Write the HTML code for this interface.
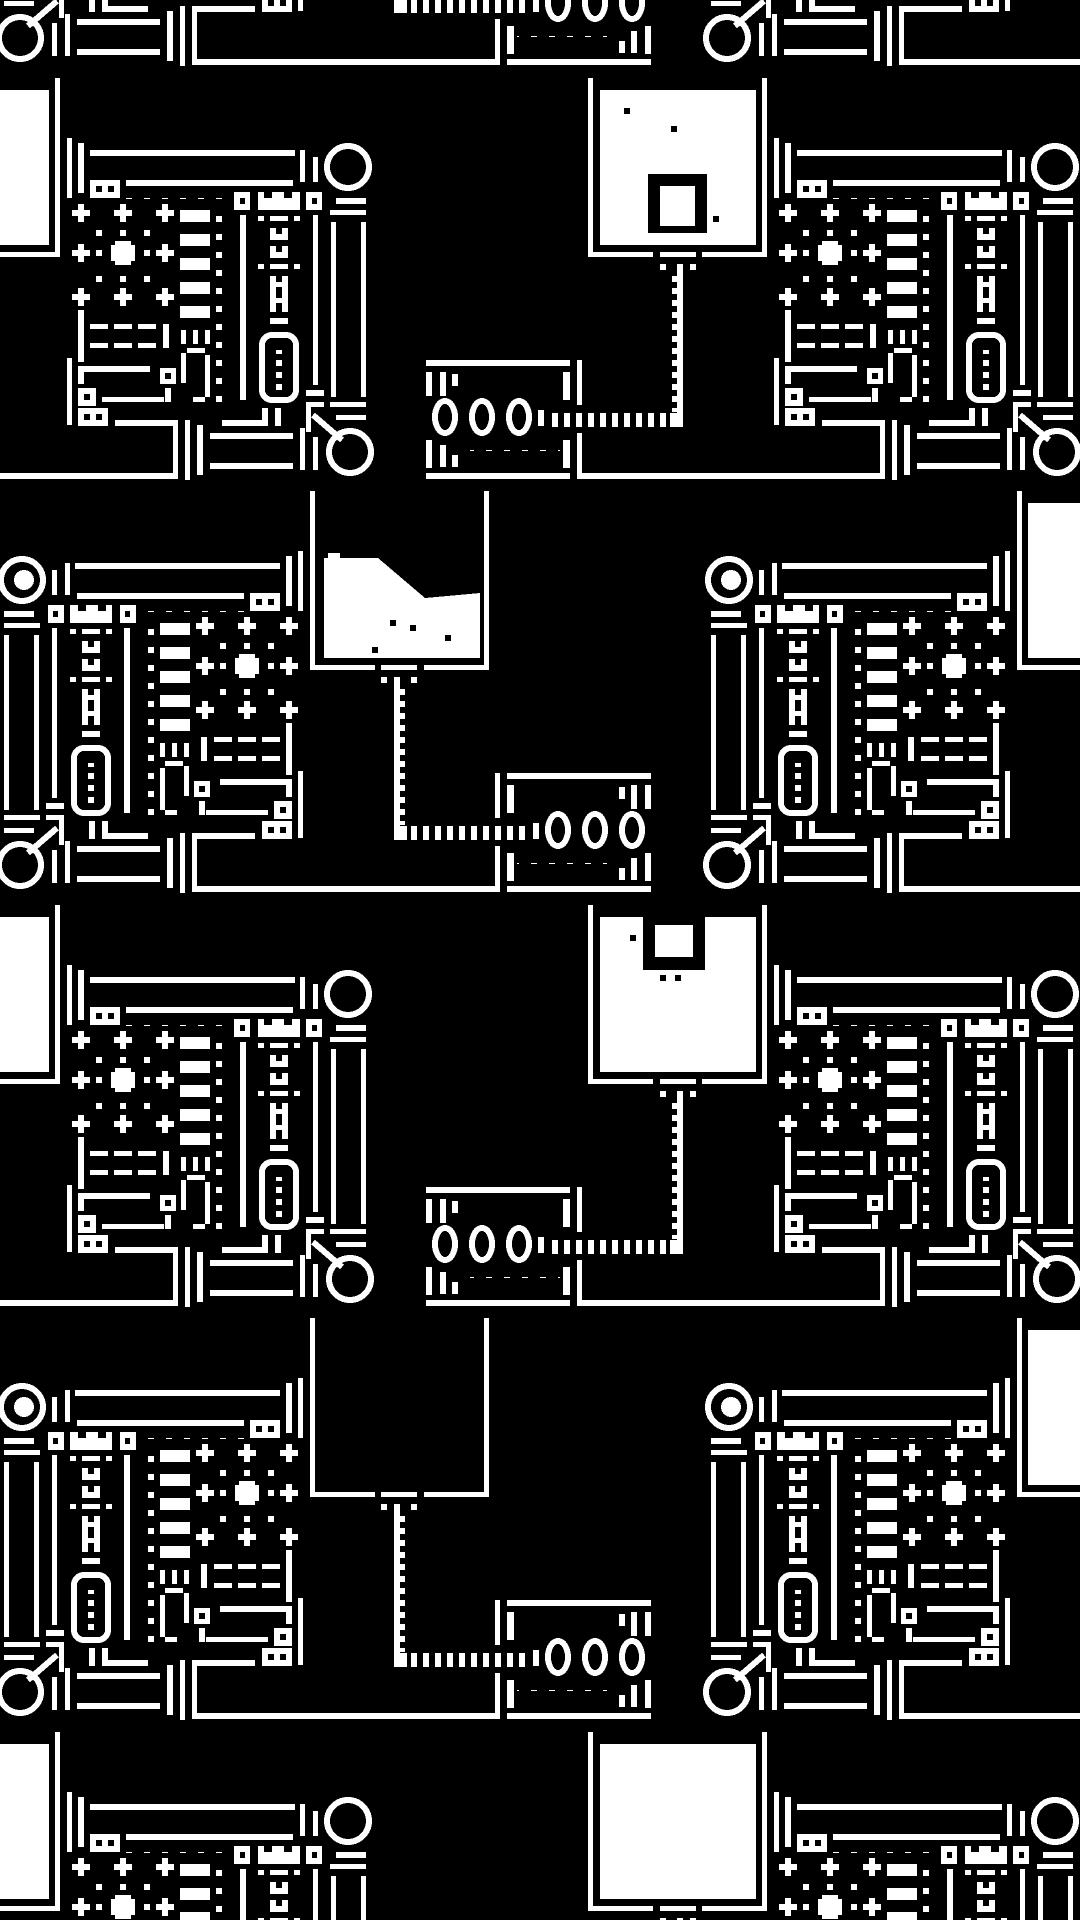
<!DOCTYPE html>
<html><head><meta charset="utf-8"><style>html,body{margin:0;padding:0;background:#000;width:1080px;height:1920px;overflow:hidden}svg{display:block}</style></head>
<body>
<svg width="1080" height="1920" viewBox="0 0 1080 1920" xmlns="http://www.w3.org/2000/svg" shape-rendering="crispEdges">
<defs>
<pattern id="d18" patternUnits="userSpaceOnUse" width="18" height="18"><rect width="6" height="6" fill="#fff"/></pattern>
<pattern id="dv12" patternUnits="userSpaceOnUse" width="12" height="12"><rect width="6" height="6" fill="#fff"/></pattern>
<pattern id="dash" patternUnits="userSpaceOnUse" width="12" height="12"><rect width="6" height="40" fill="#fff"/></pattern>
<g id="P"><rect x="-9" y="-3" width="18" height="6"/><rect x="-3" y="-9" width="6" height="18"/></g>
<g id="A" fill="#fff">
<rect x="588" y="78" width="5" height="179"/><rect x="762" y="78" width="5" height="179"/>
<rect x="588" y="252" width="65" height="5"/><rect x="660" y="252" width="36" height="5"/><rect x="702" y="252" width="65" height="5"/>
<rect x="660" y="264" width="6" height="6"/><rect x="690" y="264" width="6" height="6"/>
<rect x="677" y="264" width="6" height="150"/><rect x="671" y="272" width="6" height="140" fill="url(#dv12)"/>
<rect x="550" y="413" width="120" height="14" fill="url(#dash)"/><rect x="670" y="413" width="13" height="14"/>
<rect x="426" y="360" width="144" height="6"/><rect x="426" y="473" width="144" height="6"/>
<rect x="426" y="372" width="6" height="24"/><rect x="440" y="372" width="6" height="24"/><rect x="452" y="374" width="6" height="12"/>
<rect x="470" y="372" width="90" height="6" fill="url(#d18)"/><rect x="470" y="390" width="90" height="6" fill="url(#d18)"/>
<rect x="470" y="445" width="90" height="6" fill="url(#d18)"/><rect x="470" y="462" width="90" height="6" fill="url(#d18)"/>
<rect x="426" y="440" width="6" height="28"/><rect x="440" y="445" width="6" height="22"/><rect x="452" y="455" width="6" height="12"/>
<rect x="563" y="372" width="7" height="28"/><rect x="563" y="440" width="7" height="28"/>
<ellipse cx="445" cy="417" rx="10" ry="16" fill="none" stroke="#fff" stroke-width="6"/>
<ellipse cx="482" cy="417" rx="10" ry="16" fill="none" stroke="#fff" stroke-width="6"/>
<ellipse cx="519" cy="417" rx="10" ry="16" fill="none" stroke="#fff" stroke-width="6"/>
<rect x="538" y="410" width="6" height="16"/>
<rect x="577" y="360" width="5" height="45"/><rect x="577" y="433" width="5" height="46"/>
<rect x="577" y="473" width="203" height="6"/>
<circle cx="348" cy="167" r="21" fill="none" stroke="#fff" stroke-width="6"/>
<rect x="300" y="150" width="5" height="32"/><rect x="313" y="157" width="5" height="25"/>
<rect x="306" y="192" width="16" height="18"/><rect x="312" y="198" width="5" height="6" fill="#000"/>
<rect x="336" y="198" width="30" height="6"/><rect x="330" y="210" width="36" height="5"/>
<rect x="313" y="215" width="5" height="170"/><rect x="331" y="222" width="5" height="175"/><rect x="361" y="222" width="5" height="175"/>
<rect x="306" y="390" width="18" height="6"/><rect x="330" y="402" width="36" height="5"/><rect x="306" y="402" width="18" height="5"/>
<rect x="306" y="407" width="5" height="25"/>
<line x1="313" y1="415" x2="342" y2="440" stroke="#fff" stroke-width="6"/>
<rect x="336" y="415" width="30" height="5"/>
<circle cx="350" cy="452" r="21" fill="none" stroke="#fff" stroke-width="6"/>
<rect x="300" y="428" width="5" height="42"/><rect x="313" y="437" width="5" height="33"/>
<rect x="67" y="138" width="5" height="60"/><rect x="78" y="143" width="6" height="50"/>
<rect x="90" y="150" width="205" height="6"/><rect x="126" y="180" width="167" height="6"/>
<rect x="90" y="180" width="30" height="18"/><rect x="96" y="186" width="6" height="6" fill="#000"/><rect x="108" y="186" width="6" height="6" fill="#000"/>
<rect x="126" y="193" width="100" height="6" fill="url(#d18)"/>
<rect x="234" y="192" width="16" height="18"/><rect x="240" y="198" width="5" height="6" fill="#000"/>
<rect x="258" y="192" width="42" height="18"/><rect x="264" y="192" width="8" height="6" fill="#000"/><rect x="284" y="192" width="8" height="6" fill="#000"/>
<use href="#P" x="81" y="213"/><use href="#P" x="123" y="213"/><use href="#P" x="165" y="213"/>
<use href="#P" x="81" y="253"/><use href="#P" x="165" y="253"/>
<use href="#P" x="81" y="297"/><use href="#P" x="123" y="297"/><use href="#P" x="165" y="297"/>
<rect x="111" y="245" width="24" height="16"/><rect x="115" y="241" width="16" height="24"/>
<rect x="96" y="230" width="6" height="6"/><rect x="120" y="230" width="6" height="6"/><rect x="144" y="230" width="6" height="6"/>
<rect x="96" y="250" width="6" height="6"/><rect x="144" y="250" width="6" height="6"/>
<rect x="96" y="276" width="6" height="6"/><rect x="120" y="276" width="6" height="6"/><rect x="144" y="276" width="6" height="6"/>
<rect x="180" y="210" width="30" height="12"/><rect x="180" y="234" width="30" height="12"/><rect x="180" y="258" width="30" height="12"/><rect x="180" y="282" width="30" height="12"/><rect x="180" y="306" width="30" height="12"/>
<rect x="216" y="210" width="6" height="200" fill="url(#d18)"/>
<rect x="240" y="215" width="6" height="185"/>
<rect x="258" y="216" width="6" height="5"/><rect x="270" y="216" width="18" height="5"/><rect x="294" y="216" width="6" height="5"/>
<rect x="270" y="228" width="18" height="12"/><rect x="276" y="228" width="6" height="6" fill="#000"/>
<rect x="270" y="246" width="18" height="12"/><rect x="276" y="246" width="6" height="6" fill="#000"/>
<rect x="258" y="264" width="6" height="5"/><rect x="270" y="264" width="18" height="5"/><rect x="294" y="264" width="6" height="5"/>
<rect x="270" y="276" width="6" height="36"/><rect x="282" y="276" width="6" height="36"/><rect x="270" y="282" width="18" height="5"/><rect x="270" y="298" width="18" height="5"/>
<rect x="270" y="318" width="18" height="6"/>
<rect x="262" y="335" width="34" height="65" rx="10" fill="none" stroke="#fff" stroke-width="6"/>
<rect x="276" y="350" width="6" height="42" fill="url(#dv12)"/>
<rect x="90" y="312" width="75" height="6" fill="url(#d18)"/>
<rect x="90" y="324" width="18" height="5"/><rect x="114" y="324" width="18" height="5"/><rect x="138" y="324" width="18" height="5"/>
<rect x="90" y="343" width="18" height="5"/><rect x="114" y="343" width="18" height="5"/><rect x="138" y="343" width="18" height="5"/>
<rect x="163" y="324" width="6" height="24"/>
<rect x="90" y="354" width="75" height="6" fill="url(#d18)"/>
<rect x="67" y="358" width="5" height="67"/><rect x="78" y="310" width="6" height="52"/>
<rect x="78" y="366" width="72" height="6"/><rect x="78" y="366" width="6" height="18"/>
<rect x="160" y="368" width="16" height="16"/><rect x="165" y="373" width="6" height="6" fill="#000"/>
<rect x="78" y="388" width="18" height="18"/><rect x="84" y="394" width="6" height="6" fill="#000"/>
<rect x="102" y="397" width="62" height="5"/><rect x="165" y="388" width="6" height="14"/>
<rect x="181" y="330" width="5" height="14"/><rect x="193" y="330" width="5" height="14"/><rect x="205" y="330" width="5" height="14"/>
<rect x="181" y="353" width="5" height="30"/><rect x="187" y="348" width="18" height="5"/><rect x="205" y="355" width="5" height="42"/><rect x="193" y="397" width="12" height="5"/>
<rect x="126" y="408" width="100" height="6" fill="url(#d18)"/>
<rect x="78" y="408" width="30" height="18"/><rect x="84" y="414" width="6" height="6" fill="#000"/><rect x="96" y="414" width="6" height="6" fill="#000"/>
<rect x="222" y="420" width="45" height="6"/><rect x="262" y="408" width="6" height="18"/><rect x="275" y="408" width="6" height="18"/>
<rect x="60" y="473" width="118" height="6"/>
<rect x="173" y="420" width="5" height="59"/><rect x="115" y="420" width="63" height="6"/>
<rect x="185" y="420" width="5" height="60"/><rect x="197" y="425" width="6" height="50"/>
<rect x="210" y="433" width="83" height="6"/><rect x="210" y="463" width="83" height="6"/>
</g>
</defs>

<use href="#A" x="-707" y="-827"/><use href="#A" x="0" y="-827"/><use href="#A" x="707" y="-827"/>
<use href="#A" x="-707" y="0"/><use href="#A" x="0" y="0"/><use href="#A" x="707" y="0"/>
<use href="#A" x="-707" y="827"/><use href="#A" x="0" y="827"/><use href="#A" x="707" y="827"/>
<use href="#A" x="-707" y="1654"/><use href="#A" x="0" y="1654"/><use href="#A" x="707" y="1654"/>
<g transform="translate(1077,-414) scale(-1,1)"><use href="#A"/><use href="#A" x="707"/><use href="#A" x="-707"/></g>
<g transform="translate(1077,413) scale(-1,1)"><use href="#A"/><use href="#A" x="707"/><use href="#A" x="-707"/></g>
<g transform="translate(1077,1240) scale(-1,1)"><use href="#A"/><use href="#A" x="707"/><use href="#A" x="-707"/></g>

<g fill="#fff">
<rect x="-107" y="-737" width="156" height="155"/><rect x="600" y="-737" width="156" height="155"/>
<rect x="-107" y="90" width="156" height="155"/><rect x="600" y="90" width="156" height="155"/>
<rect x="-107" y="917" width="156" height="155"/><rect x="600" y="917" width="156" height="155"/>
<rect x="-107" y="1744" width="156" height="155"/><rect x="600" y="1744" width="156" height="155"/>
<polygon points="324,558 378,558 425,598 480,593 480,658 324,658"/><rect x="328" y="553" width="12" height="6"/>
<rect x="1028" y="503" width="156" height="155"/>
<rect x="1028" y="1330" width="156" height="155"/>
<circle cx="24" cy="580" r="10"/><circle cx="731" cy="580" r="10"/>
<circle cx="24" cy="1407" r="10"/><circle cx="731" cy="1407" r="10"/>
</g>
<g fill="#000">
<rect x="624" y="108" width="6" height="6"/><rect x="671" y="126" width="6" height="6"/><rect x="713" y="216" width="6" height="6"/>
<rect x="648" y="174" width="59" height="59"/>
<rect x="390" y="620" width="6" height="6"/><rect x="410" y="625" width="6" height="6"/><rect x="445" y="635" width="6" height="6"/><rect x="372" y="647" width="6" height="6"/>
<rect x="643" y="915" width="62" height="55"/>
<rect x="660" y="975" width="6" height="6"/><rect x="675" y="975" width="6" height="6"/><rect x="630" y="935" width="6" height="6"/>
</g>
<g fill="#fff">
<rect x="660" y="186" width="35" height="40"/>
<rect x="655" y="925" width="38" height="32"/>
</g>
</svg>
</body></html>
